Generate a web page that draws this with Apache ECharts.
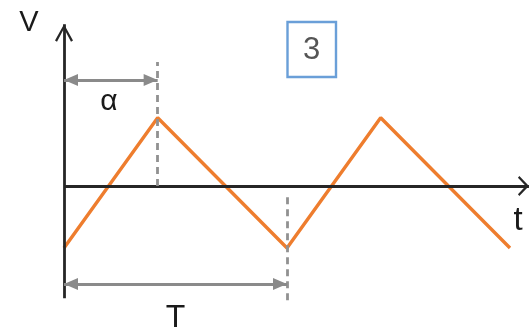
<!DOCTYPE html>
<html>
<head>
<meta charset="utf-8">
<script src="https://cdn.jsdelivr.net/npm/echarts@6/dist/echarts.min.js"></script>
<style>html,body{margin:0;padding:0;background:#fff;}#c{width:531px;height:329px;}</style>
</head>
<body>
<div id="c"></div>
<script>
// Triangle wave: time in units where period T = 10, alpha = time of first peak
const waveX = [0, 4.2, 10, 14.2, 20];
const waveY = [-1, 1.1, -1, 1.1, -1];
const alpha = 4.2;
const period = 10;
// axis extents (data units)
const tAxisEnd = 20.85;
const vAxisTop = 2.61;
const vAxisBottom = -1.81;
// guide / dimension line levels
const alphaGuideTop = 2.0;
const periodGuide = [-0.18, -1.89];
const alphaArrowY = 1.71;
const periodArrowY = -1.58;
const labels = { v: 'V', t: 't', alpha: 'α', period: 'T', box: '3' };

const chart = echarts.init(document.getElementById('c'), null, { renderer: 'canvas' });

const chevV = 'path://M9,0 L18,16.3 L16,17.5 L9,4.2 L2,17.5 L0,16.3 Z M9,-17.5 L9.01,-17.5 Z';
const chevH = 'path://M10,0 L20,9.6 L18.2,11 L10,3.2 L1.8,11 L0,9.6 Z M10,-11 L10.01,-11 Z';
const tri = 'path://M6,0 L12,14 L0,14 Z M6,-14 L6.01,-14 Z';

const axisColor = '#262626';
const grayArrow = '#8a8a8a';
const dashColor = '#919191';

function ml(lines, lineStyle) {
  return {
    silent: true,
    animation: false,
    label: { show: false },
    emphasis: { disabled: true },
    lineStyle: lineStyle,
    symbol: ['none', 'none'],
    data: lines
  };
}

const option = {
  animation: false,
  grid: { left: 0, right: 0, top: 0, bottom: 0 },
  xAxis: { type: 'value', min: -2.870, max: 20.942, show: false },
  yAxis: { type: 'value', min: -2.306, max: 3.0, show: false },
  series: [
    {
      type: 'line', name: 'axes', data: [], z: 2,
      markLine: ml([
        [{ coord: [0, vAxisBottom], symbol: 'none' }, { coord: [0, vAxisTop], symbol: chevV, symbolSize: [18, 35] }],
        [{ coord: [0, 0], symbol: 'none' }, { coord: [tAxisEnd, 0], symbol: chevH, symbolSize: [20, 22] }]
      ], { color: axisColor, width: 2.8, type: 'solid' })
    },
    {
      type: 'line', name: 'guides', data: [], z: 1,
      markLine: ml([
        [{ coord: [alpha, 0] }, { coord: [alpha, alphaGuideTop] }],
        [{ coord: [period, periodGuide[0]] }, { coord: [period, periodGuide[1]] }]
      ], { color: dashColor, width: 2.8, type: [7, 5] })
    },
    {
      type: 'line', name: 'dims', data: [], z: 2,
      markLine: ml([
        [{ coord: [0, alphaArrowY], symbol: tri, symbolSize: [12, 28] }, { coord: [alpha, alphaArrowY], symbol: tri, symbolSize: [12, 28] }],
        [{ coord: [0, periodArrowY], symbol: tri, symbolSize: [12, 28] }, { coord: [period, periodArrowY], symbol: tri, symbolSize: [12, 28] }]
      ], { color: grayArrow, width: 3.2, type: 'solid' })
    },
    {
      type: 'line', name: 'wave', z: 3,
      data: waveX.map((x, i) => [x, waveY[i]]),
      symbol: 'none',
      silent: true,
      lineStyle: { color: '#EE7D2E', width: 3.4 }
    }
  ],
  graphic: [
    { type: 'text', x: 29, y: 23, style: { text: labels.v, fontSize: 29, fontFamily: 'Liberation Sans, Arial, sans-serif', fill: '#1a1a1a', align: 'center', verticalAlign: 'middle' } },
    { type: 'text', x: 109, y: 102, style: { text: labels.alpha, fontSize: 30, fontFamily: 'Liberation Sans, Arial, sans-serif', fill: '#1a1a1a', align: 'center', verticalAlign: 'middle' } },
    { type: 'text', x: 175.5, y: 318, style: { text: labels.period, fontSize: 32, fontFamily: 'Liberation Sans, Arial, sans-serif', fill: '#1a1a1a', align: 'center', verticalAlign: 'middle' } },
    { type: 'text', x: 518, y: 221, style: { text: labels.t, fontSize: 33, fontFamily: 'Liberation Sans, Arial, sans-serif', fill: '#1a1a1a', align: 'center', verticalAlign: 'middle' } },
    { type: 'rect', shape: { x: 287.5, y: 22, width: 48.5, height: 55 }, style: { fill: '#fff', stroke: '#6A9FD8', lineWidth: 2.4 } },
    { type: 'text', x: 311.5, y: 50.5, style: { text: labels.box, fontSize: 31, fontFamily: 'Liberation Sans, Arial, sans-serif', fill: '#555', align: 'center', verticalAlign: 'middle' } }
  ]
};
chart.setOption(option);
</script>
</body>
</html>
